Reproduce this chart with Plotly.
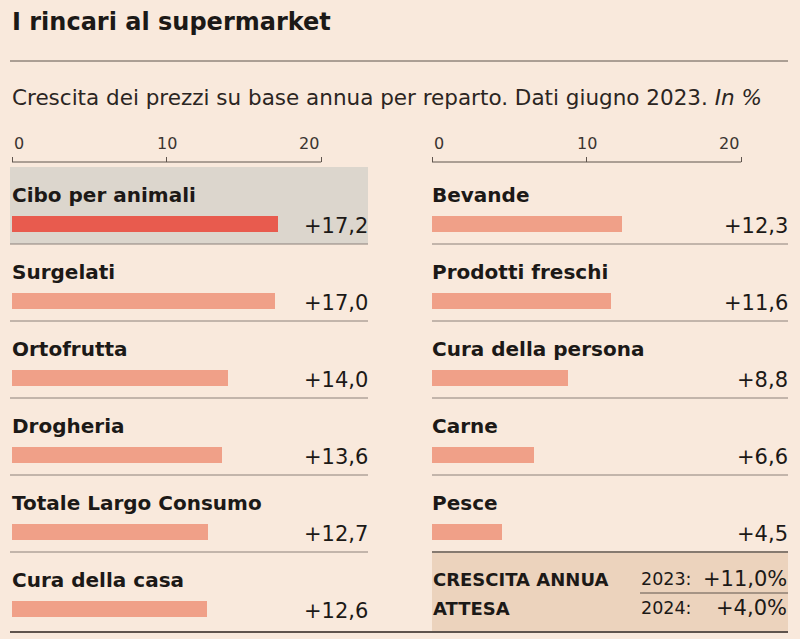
import plotly.graph_objects as go

# ---- data ----
title = "I rincari al supermarket"
subtitle = "Crescita dei prezzi su base annua per reparto. Dati giugno 2023. <i>In %</i>"
left_cats = ["Cibo per animali", "Surgelati", "Ortofrutta", "Drogheria",
             "Totale Largo Consumo", "Cura della casa"]
left_vals = [17.2, 17.0, 14.0, 13.6, 12.7, 12.6]
right_cats = ["Bevande", "Prodotti freschi", "Cura della persona", "Carne", "Pesce"]
right_vals = [12.3, 11.6, 8.8, 6.6, 4.5]
tick_vals = [0, 10, 20]
highlight = "Cibo per animali"
box_labels = ["CRESCITA ANNUA", "ATTESA"]
box_years = ["2023:", "2024:"]
box_vals = [11.0, 4.0]

# ---- style ----
W, H = 800, 639
BG = "#f9e9dc"
BAR = "#f0a088"
BAR_HI = "#e85b4e"
GREY_BOX = "#dcd6cd"
TAN_BOX = "#ecd3bd"
TXT = "#1c1917"
LINE = "#8c817a"
DARK = "#5f544d"
FONT = "DejaVu Sans"
XMAX = 23.0

ROW0_LABEL = 195
ROW0_BAR = 224
PITCH = 77
SEP0 = 244


def px(x):
    return x / W


def fmt(v, pct=False):
    s = "+" + f"{v:.1f}".replace(".", ",")
    return s + ("%" if pct else "")


fig = go.Figure()

annotations = []
shapes = []


def panel(cats, vals, xa, x_left_px, x_right_px, last_dark=False):
    ys = [ROW0_BAR + PITCH * i for i in range(len(cats))]
    colors = [BAR_HI if c == highlight else BAR for c in cats]
    fig.add_trace(go.Bar(
        x=vals, y=ys, orientation="h", width=16, base=0,
        marker=dict(color=colors, line=dict(width=0)),
        xaxis=xa, yaxis="y", hoverinfo="skip", showlegend=False,
    ))
    xref = xa
    for i, (c, v) in enumerate(zip(cats, vals)):
        annotations.append(dict(
            x=0, y=ROW0_LABEL + PITCH * i, xref=xref, yref="y",
            text=f"<b>{c}</b>", showarrow=False, xanchor="left", yanchor="middle",
            font=dict(family=FONT, size=20, color=TXT), xshift=-2))
        annotations.append(dict(
            x=XMAX, y=ROW0_BAR + 2 + PITCH * i, xref=xref, yref="y",
            text=fmt(v), showarrow=False, xanchor="right", yanchor="middle",
            font=dict(family=FONT, size=21, color=TXT), xshift=2))
    # tick labels
    for j, t in enumerate(tick_vals):
        anchor = "left" if j == 0 else ("right" if j == len(tick_vals) - 1 else "center")
        annotations.append(dict(
            x=t, y=143, xref=xref, yref="y", text=str(t), showarrow=False,
            xanchor=anchor, yanchor="middle",
            font=dict(family=FONT, size=16, color="#3b3430")))
    # axis baseline from first to last tick
    shapes.append(dict(type="line", xref=xref, yref="y",
                       x0=tick_vals[0], x1=tick_vals[-1], y0=162, y1=162,
                       line=dict(color=DARK, width=1)))
    # separators
    for i in range(len(cats)):
        y = SEP0 + PITCH * i
        is_last = i == len(cats) - 1
        if is_last and not last_dark:
            continue
        shapes.append(dict(type="line", xref="paper", yref="y",
                           x0=px(x_left_px), x1=px(x_right_px), y0=y, y1=y,
                           line=dict(color=DARK if is_last else LINE,
                                     width=1.5 if is_last else 1)))


# highlight box (left, first row)
hi_idx = left_cats.index(highlight)
shapes.append(dict(type="rect", xref="paper", yref="y", layer="below",
                   x0=px(10), x1=px(368), y0=167 + PITCH * hi_idx, y1=SEP0 + PITCH * hi_idx,
                   fillcolor=GREY_BOX, line=dict(width=0)))
# tan box (right bottom)
shapes.append(dict(type="rect", xref="paper", yref="y", layer="below",
                   x0=px(432), x1=px(788), y0=SEP0 + PITCH * (len(right_cats) - 1) + 1, y1=632,
                   fillcolor=TAN_BOX, line=dict(width=0)))

panel(left_cats, left_vals, "x", 10, 368)
panel(right_cats, right_vals, "x2", 432, 788, last_dark=True)

# bottom line
shapes.append(dict(type="line", xref="paper", yref="y", x0=px(10), x1=px(788),
                   y0=632, y1=632, line=dict(color=DARK, width=2)))
# header line
shapes.append(dict(type="line", xref="paper", yref="y", x0=px(10), x1=px(788),
                   y0=61, y1=61, line=dict(color=DARK, width=1)))

# title / subtitle
annotations.append(dict(x=px(10), y=22, xref="paper", yref="y", text=f"<b>{title}</b>",
                        showarrow=False, xanchor="left", yanchor="middle",
                        font=dict(family=FONT, size=24, color=TXT)))
annotations.append(dict(x=px(10), y=97, xref="paper", yref="y", text=subtitle,
                        showarrow=False, xanchor="left", yanchor="middle",
                        font=dict(family=FONT, size=21.5, color="#2b2522")))

# box contents
box_rows_y = [579, 608]
for lab, yr, v, y in zip(box_labels, box_years, box_vals, box_rows_y):
    annotations.append(dict(x=px(431), y=y, xref="paper", yref="y", text=f"<b>{lab}</b>",
                            showarrow=False, xanchor="left", yanchor="middle",
                            font=dict(family=FONT, size=18, color=TXT)))
    annotations.append(dict(x=px(639), y=y, xref="paper", yref="y", text=yr,
                            showarrow=False, xanchor="left", yanchor="middle",
                            font=dict(family=FONT, size=17.5, color=TXT)))
    annotations.append(dict(x=px(789), y=y, xref="paper", yref="y", text=fmt(v, pct=True),
                            showarrow=False, xanchor="right", yanchor="middle",
                            font=dict(family=FONT, size=21, color=TXT)))
shapes.append(dict(type="line", xref="paper", yref="y", x0=px(640), x1=px(788),
                   y0=593, y1=593, line=dict(color=DARK, width=1)))

axis_common = dict(range=[0, XMAX], showgrid=False, zeroline=False, showline=False,
                   ticks="outside", ticklen=5, tickwidth=1, tickcolor=DARK,
                   tickvals=tick_vals, showticklabels=False, side="top",
                   anchor="free", position=1 - 162 / H, fixedrange=True)

fig.update_layout(
    width=W, height=H,
    margin=dict(l=0, r=0, t=0, b=0),
    paper_bgcolor=BG, plot_bgcolor=BG,
    xaxis=dict(domain=[px(12), px(367.5)], **axis_common),
    xaxis2=dict(domain=[px(432), px(787.5)], **axis_common),
    yaxis=dict(range=[H, 0], domain=[0, 1], visible=False, fixedrange=True),
    bargap=0,
    shapes=shapes,
    annotations=annotations,
    font=dict(family=FONT),
)

fig.write_html("out.html", config={"displayModeBar": False},
               post_script="document.body.style.margin='0';document.body.style.overflow='hidden';")
